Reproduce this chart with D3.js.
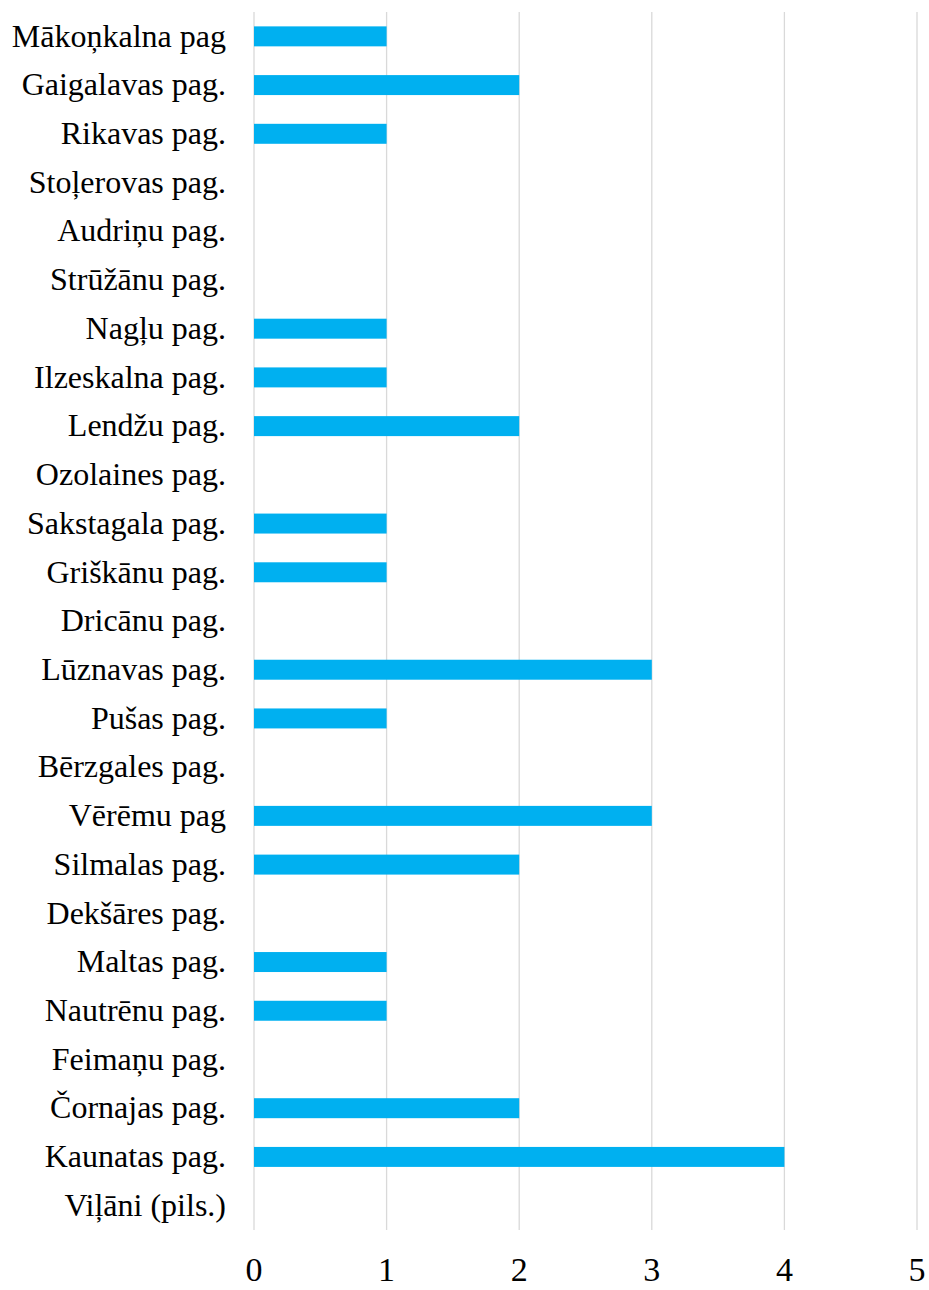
<!DOCTYPE html>
<html>
<head>
<meta charset="utf-8">
<script src="https://cdn.jsdelivr.net/npm/d3@7"></script>
<style>
  body { margin: 0; background: #fff; }
  text { font-family: "Liberation Serif", "Times New Roman", serif; fill: #000; }
</style>
</head>
<body>
<div id="chart"></div>
<script>
// categories, top to bottom
var parishes = [
    "Mākoņkalna pag", "Gaigalavas pag.", "Rikavas pag.", "Stoļerovas pag.",
    "Audriņu pag.", "Strūžānu pag.", "Nagļu pag.", "Ilzeskalna pag.",
    "Lendžu pag.", "Ozolaines pag.", "Sakstagala pag.", "Griškānu pag.",
    "Dricānu pag.", "Lūznavas pag.", "Pušas pag.", "Bērzgales pag.",
    "Vērēmu pag", "Silmalas pag.", "Dekšāres pag.", "Maltas pag.",
    "Nautrēnu pag.", "Feimaņu pag.", "Čornajas pag.", "Kaunatas pag.",
    "Viļāni (pils.)"
];
var counts = [1, 2, 1, 0, 0, 0, 1, 1, 2, 0, 1, 1, 0, 3, 1, 0, 3, 2, 0, 1, 1, 0, 2, 4, 0];
var xTicks = [0, 1, 2, 3, 4, 5];

var svgWidth = 929;
var svgHeight = 1290;

var margin = { top: 12, right: 12, bottom: 60, left: 254 };
var width = svgWidth - margin.left - margin.right;
var height = svgHeight - margin.top - margin.bottom;

var svg = d3.select("#chart")
    .append("svg")
    .attr("width", svgWidth)
    .attr("height", svgHeight);

var chartGroup = svg.append("g")
    .attr("transform", `translate(${margin.left}, ${margin.top})`);

var xScale = d3.scaleLinear()
    .domain([0, 5])
    .range([0, 663]);

var yScale = d3.scaleBand()
    .domain(parishes)
    .range([0, height])
    .paddingInner(0.59)
    .paddingOuter(0.295);

// vertical gridlines
chartGroup.selectAll("line.grid")
    .data(xTicks)
    .enter()
    .append("line")
    .attr("class", "grid")
    .attr("x1", d => xScale(d))
    .attr("x2", d => xScale(d))
    .attr("y1", 0)
    .attr("y2", height)
    .attr("stroke", "#d9d9d9")
    .attr("stroke-width", 1.3);

// bars
chartGroup.selectAll("rect.bar")
    .data(parishes)
    .enter()
    .append("rect")
    .attr("class", "bar")
    .attr("x", xScale(0))
    .attr("y", d => yScale(d))
    .attr("width", (d, i) => xScale(counts[i]) - xScale(0))
    .attr("height", yScale.bandwidth())
    .attr("fill", "#00b0f0");

// category labels
chartGroup.selectAll("text.cat")
    .data(parishes)
    .enter()
    .append("text")
    .attr("class", "cat")
    .attr("x", -28)
    .attr("y", d => yScale(d) + yScale.bandwidth() / 2)
    .attr("dy", "0.32em")
    .attr("text-anchor", "end")
    .style("font-size", "32px")
    .text(d => d);

// x tick labels (kept just inside the bottom edge)
chartGroup.selectAll("text.tick")
    .data(xTicks)
    .enter()
    .append("text")
    .attr("class", "tick")
    .attr("x", d => xScale(d))
    .attr("y", height + 51)
    .attr("text-anchor", "middle")
    .style("font-size", "34px")
    .text(d => d);
</script>
</body>
</html>
